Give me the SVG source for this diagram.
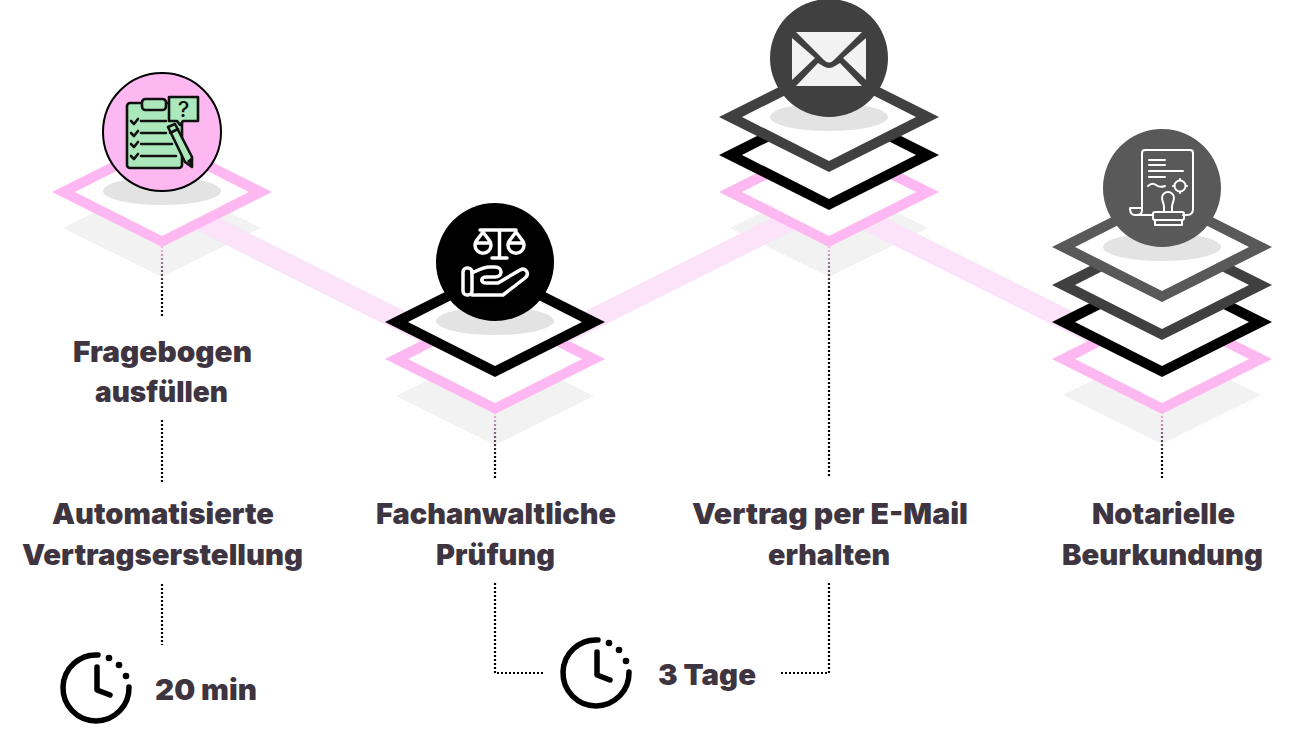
<svg xmlns="http://www.w3.org/2000/svg" xmlns:xlink="http://www.w3.org/1999/xlink" width="1307" height="729" viewBox="0 0 1307 729">
<style>
.t{font-family:Inter,"Liberation Sans",sans-serif;font-weight:900;font-size:29px;fill:#3e3540}
.gray{fill:#f2f2f2}
.pink{fill:#fdb8f2}
.black{fill:#000}
.d4{fill:#404040}
.d5{fill:#595959}
.sh{fill:#e3e3e3}
.dot{fill:none;stroke-width:2.200;stroke-dasharray:2 2}
.band{fill:none;stroke:#fce3f9;stroke-width:21}
.ic{fill:none;stroke:#fff;stroke-linecap:round;stroke-linejoin:round}
.cl{fill:none;stroke:#000;stroke-width:5.500;stroke-linecap:round;stroke-linejoin:round}
.il{fill:none;stroke:#111;stroke-width:2.600;stroke-linecap:round;stroke-linejoin:round}
.gf{fill:#abe8bb;stroke:#111;stroke-width:2.600;stroke-linejoin:round}
</style>
<defs>
<g id="dia"><polygon points="-110,0 0,-55 110,0 0,55"/><polygon points="-87,0 0,-44 87,0 0,44" fill="#fff"/></g>
<polygon id="base" points="-99,0 0,-49 99,0 0,49"/>
<ellipse id="shadow" rx="59" ry="14"/>
<g id="clock">
<path class="cl" d="M98 655A33 33 0 1 0 129 687"/>
<path class="cl" d="M97 667V690L110 695"/>
<circle cx="109" cy="658" r="3.300"/><circle cx="119" cy="665" r="3.300"/><circle cx="126" cy="676" r="3.300"/>
</g>
<linearGradient id="gTop" gradientUnits="userSpaceOnUse" x1="0" x2="0" y1="246" y2="292"><stop offset="0" stop-color="#fdb8f2"/><stop offset="1" stop-color="#000"/></linearGradient>
<linearGradient id="gLow" gradientUnits="userSpaceOnUse" x1="0" x2="0" y1="412" y2="458"><stop offset="0" stop-color="#fdb8f2"/><stop offset="1" stop-color="#000"/></linearGradient>
</defs>

<g id="bases">
<use href="#base" x="162" y="228" class="gray"/>
<use href="#base" x="495" y="396" class="gray"/>
<use href="#base" x="829" y="228" class="gray"/>
<use href="#base" x="1162" y="395" class="gray"/>
</g>

<g id="connectors">
<path class="band" d="M162 201L495 368L829 201L1162 368"/>
<path class="dot" stroke="url(#gTop)" d="M162 246V318"/>
<path class="dot" stroke="#000" d="M162 420V482"/>
<path class="dot" stroke="#000" d="M162 584V645"/>
<path class="dot" stroke="url(#gLow)" d="M495 412V480"/>
<path class="dot" stroke="url(#gTop)" d="M829 246V478"/>
<path class="dot" stroke="url(#gLow)" d="M1162 412V480"/>
<path class="dot" stroke="#000" d="M495 583V673H543"/>
<path class="dot" stroke="#000" d="M829 583V673H779"/>
</g>

<g id="node-fragebogen">
<use href="#dia" x="162" y="192" class="pink"/>
<use href="#shadow" x="162" y="191" class="sh"/>
<circle cx="162" cy="132" r="59" fill="#fdb8f2" stroke="#000" stroke-width="2"/>
<rect x="127" y="103" width="55" height="65" rx="3" class="gf"/>
<rect x="142" y="99" width="24" height="11" rx="3.500" class="gf"/>
<path d="M169 97H198V121H183L180 125L177 121H169Z" class="gf"/>
<text x="183.500" y="117" text-anchor="middle" font-family="Inter,'Liberation Sans',sans-serif" font-size="22" font-weight="500" fill="#111">?</text>
<path class="il" d="M131 121L134 124L138 119M131 133L134 136L138 131M131 144L134 147L138 142M131 156L134 159L138 154"/>
<path class="il" d="M141 121H166M141 133H166M141 144H172M141 156H176"/>
<path d="M168 127L175 124L192 157L192 167L185 162Z" class="gf"/>
<path d="M187 161L192 167L192 157Z" fill="#111"/>
<path class="il" d="M170 133L178 129"/>
</g>

<g id="node-pruefung">
<use href="#dia" x="495" y="359" class="pink"/>
<use href="#dia" x="495" y="322" class="black"/>
<use href="#shadow" x="495" y="321" class="sh"/>
<circle cx="495" cy="262" r="59" fill="#000"/>
<g class="ic" stroke-width="3.500">
<path d="M480 230H516M499.500 230V257M492 258H507"/>
<path d="M477 240A8 8 0 1 0 489 240L483 232ZM476 243H490"/>
<path d="M510 240A8 8 0 1 0 522 240L516 232ZM509 243H523"/>
<rect x="463" y="268" width="9" height="27" rx="4"/>
<path d="M472 273C478 270 483 267 490 267H495C503 267 503 277 495 277H487C480 277 480 283 487 283H498L520 270C526 267 530 274 525 278L503 295H472"/>
</g>
</g>

<g id="node-email">
<use href="#dia" x="829" y="192" class="pink"/>
<use href="#dia" x="829" y="155" class="black"/>
<use href="#dia" x="829" y="117" class="d4"/>
<use href="#shadow" x="829" y="117" class="sh"/>
<circle cx="829" cy="58" r="59" fill="#404040"/>
<g fill="#f2f2f2">
<path d="M796 32H862L834 60Q829 65 824 60Z"/>
<path d="M792 38L815 58L792 80Z"/>
<path d="M866 38L843 58L866 80Z"/>
<path d="M796 86L818 63L823 66Q829 70 835 66L840 63L862 86Z"/>
</g>
</g>

<g id="node-notar">
<use href="#dia" x="1162" y="359" class="pink"/>
<use href="#dia" x="1162" y="322" class="black"/>
<use href="#dia" x="1162" y="285" class="d4"/>
<use href="#dia" x="1162" y="247" class="d5"/>
<use href="#shadow" x="1162" y="247" class="sh"/>
<circle cx="1162" cy="188" r="59" fill="#595959"/>
<g class="ic" stroke-width="2">
<path d="M1142 208V153Q1142 150 1145 150H1190Q1193 150 1193 153V209Q1193 215 1187 215H1183"/>
<path d="M1149 160H1165M1149 165H1165M1149 171H1183M1149 177H1165"/>
<path d="M1148 186Q1152 182 1156 185T1165 186"/>
<circle cx="1180" cy="186" r="5.500"/>
<path d="M1180 179V180M1180 192V193M1173 186H1174M1186 186H1187"/>
<path d="M1130 208H1142V210Q1142 215 1137 215H1135Q1130 215 1130 208ZM1137 215H1152"/>
<path d="M1164 207C1164 203 1162 201 1162 198A6 6 0 0 1 1174 198C1174 201 1172 203 1172 207V212H1164Z"/>
<rect x="1153" y="212" width="31" height="8" rx="2"/>
<path d="M1155 220V225H1182V220"/>
</g>
</g>

<g id="labels">
<text class="t" x="73" y="362" textLength="179" lengthAdjust="spacingAndGlyphs">Fragebogen</text>
<text class="t" x="95" y="402" textLength="133" lengthAdjust="spacingAndGlyphs">ausfüllen</text>
<text class="t" x="52" y="524" textLength="222" lengthAdjust="spacingAndGlyphs">Automatisierte</text>
<text class="t" x="22" y="565" textLength="281" lengthAdjust="spacingAndGlyphs">Vertragserstellung</text>
<text class="t" x="376" y="524" textLength="240" lengthAdjust="spacingAndGlyphs">Fachanwaltliche</text>
<text class="t" x="436" y="565" textLength="119" lengthAdjust="spacingAndGlyphs">Prüfung</text>
<text class="t" x="692" y="524" textLength="276" lengthAdjust="spacingAndGlyphs">Vertrag per E-Mail</text>
<text class="t" x="768" y="565" textLength="122" lengthAdjust="spacingAndGlyphs">erhalten</text>
<text class="t" x="1092" y="524" textLength="143" lengthAdjust="spacingAndGlyphs">Notarielle</text>
<text class="t" x="1062" y="565" textLength="201" lengthAdjust="spacingAndGlyphs">Beurkundung</text>
<text class="t" x="155" y="700" textLength="102" lengthAdjust="spacingAndGlyphs">20 min</text>
<text class="t" x="658" y="685" textLength="98" lengthAdjust="spacingAndGlyphs">3 Tage</text>
</g>

<g id="clock-20min"><use href="#clock"/></g>
<g id="clock-3tage"><use href="#clock" x="500" y="-15"/></g>
</svg>
